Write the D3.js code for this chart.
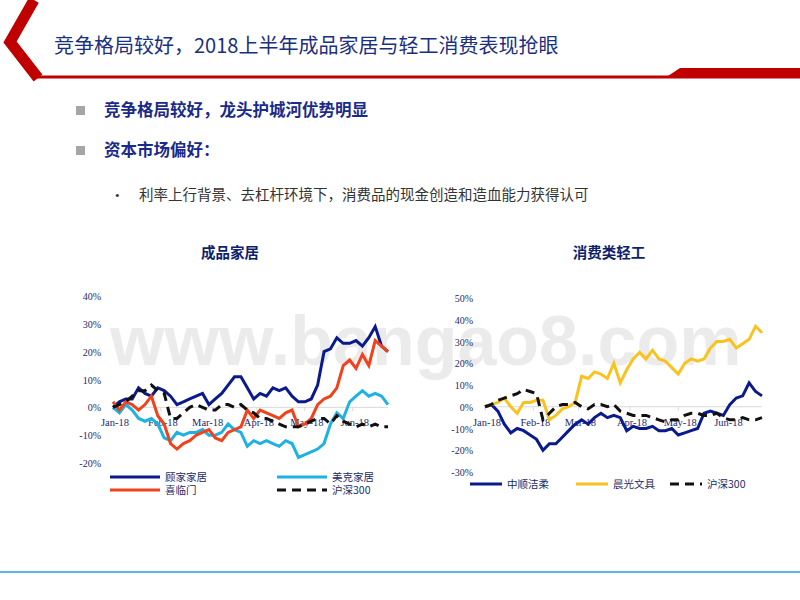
<!DOCTYPE html>
<html><head><meta charset="utf-8">
<script src="https://cdn.jsdelivr.net/npm/d3@7"></script>
<style>body{margin:0;background:#fff}</style></head>
<body><svg id="s" width="800" height="600"></svg>
<script>
const days = d3.range(0, 173, 4); // day offsets from 2018-01-02
const monthTicks = ["Jan-18","Feb-18","Mar-18","Apr-18","May-18","Jun-18"];
const monthDays = [0,30,58,90,120,150];

const leftNames = ["顾家家居","美克家居","喜临门","沪深300"];
const gujia = [0,2,3,3,7,5,4,7,6,4,1,2,3,4,5,1,3,5,8,11,11,7,3,5,4,7,6,7,4,2,2,3,8,20,21,25,23,23,24,22,25,29,22,20];
const meike = [0,-2,1,-1,-4,-5,-4,-6,-11,-12,-9,-10,-9,-9,-8,-10,-10,-9,-6,-8,-9,-14,-12,-13,-12,-13,-14,-12,-13,-18,-17,-16,-15,-13,-6,-2,-4,2,4,6,4,5,4,1];
const xilinmen = [2,-1,2,1,-1,1,4,-3,-6,-13,-15,-13,-12,-10,-9,-8,-11,-12,-9,-8,-7,-1,-4,-1,-2,-3,-4,-2,-1,-7,-6,-4,1,3,4,7,15,17,14,19,15,24,22,20];
const hs300L = [0,1,2,4,6,6,8,6,5,-4,-4,-2,0,1,0,-1,-1,1,1,0,1,-1,-2,-4,-4,-5,-6,-7,-7,-7,-6,-5,-4,-4,-6,-3,-5,-6,-7,-6,-7,-6,-7,-7];
const leftTicks = [-20,-10,0,10,20,30,40];

const rightNames = ["中顺洁柔","晨光文具","沪深300"];
const zhongshun = [0,1,-2,-8,-12,-10,-11,-13,-15,-20,-17,-17,-14,-11,-8,-6,-8,-5,-3,-5,-4,-5,-11,-9,-10,-10,-9,-11,-11,-10,-13,-12,-11,-10,-3,-2,-3,-4,1,4,5,11,7,5];
const chenguang = [0,1,2,4,0,-3,2,2,3,3,-6,-4,-1,0,2,14,13,16,15,13,20,11,17,22,25,22,26,22,21,18,15,20,22,21,22,27,30,30,31,27,29,31,37,34];
const hs300R = [0,1,3,4,5,6,8,7,6,-6,-3,0,1,1,2,0,-1,1,1,0,1,-2,-3,-4,-4,-4,-5,-6,-7,-6,-6,-4,-3,-3,-4,-4,-3,-5,-6,-6,-5,-6,-6,-5];
const rightTicks = [-30,-20,-10,0,10,20,30,40,50];

const NAVY="#0a1a8c", CYAN="#1eb2e4", RED="#f0421c", YEL="#f9c31f";
const svg = d3.select("#s");

// header decoration
svg.append("polyline").attr("points","34,0 10,42 38,78").attr("fill","none").attr("stroke","#c00000").attr("stroke-width",11);
svg.append("line").attr("x1",36).attr("x2",800).attr("y1",77).attr("y2",77).attr("stroke","#c00000").attr("stroke-width",3);
svg.append("polygon").attr("points","665,78 680,68 800,68 800,78").attr("fill","#c00000");
svg.append("text").attr("x",54).attr("y",53).attr("font-family","Noto Sans CJK SC, Liberation Serif").attr("font-size",20).attr("fill","#1a2f80").text("竞争格局较好，2018上半年成品家居与轻工消费表现抢眼");
svg.append("line").attr("x1",0).attr("x2",800).attr("y1",572).attr("y2",572).attr("stroke","#2aa0d8").attr("stroke-width",1.5);

// bullets
[[116,"竞争格局较好，龙头护城河优势明显"],[156,"资本市场偏好："]].forEach(([y,t])=>{
  svg.append("rect").attr("x",76).attr("y",y-10).attr("width",9).attr("height",9).attr("fill","#a6a6a6");
  svg.append("text").attr("x",104).attr("y",y).attr("font-family","Noto Sans CJK SC").attr("font-weight","bold").attr("font-size",16.5).attr("fill","#1a2a8a").text(t);
});
svg.append("text").attr("x",115).attr("y",200).attr("font-size",13).attr("fill","#333").text("•");
svg.append("text").attr("x",139).attr("y",200).attr("font-family","Noto Sans CJK SC").attr("font-size",14.5).attr("fill","#333").text("利率上行背景、去杠杆环境下，消费品的现金创造和造血能力获得认可");

// watermark
svg.append("text").attr("x",110).attr("y",365).attr("font-family","Liberation Sans").attr("font-weight","bold").attr("font-size",70).attr("fill","#e8e8e8").attr("fill-opacity",0.85).text("www.bangao8.com");

function chart(o){
  const x = d3.scaleLinear().domain([0,172]).range([o.x0,o.x1]);
  const y = d3.scaleLinear().domain(o.dom).range([o.yb,o.yt]);
  const g = svg.append("g");
  g.append("text").attr("x",o.tx).attr("y",258).attr("text-anchor","middle").attr("font-family","Noto Sans CJK SC").attr("font-weight","bold").attr("font-size",14.5).attr("fill","#0f1f6e").text(o.title);
  o.ticks.forEach(t=>g.append("text").attr("x",o.x0-12).attr("y",y(t)+4).attr("text-anchor","end").attr("font-family","Liberation Serif").attr("font-size",10).attr("fill","#1a2a6a").text(t+"%"));
  g.append("line").attr("x1",o.x0).attr("x2",o.x1).attr("y1",y(0)).attr("y2",y(0)).attr("stroke","#d9d9d9");
  monthDays.forEach((d,i)=>{
    g.append("line").attr("x1",x(d)).attr("x2",x(d)).attr("y1",y(0)).attr("y2",y(0)+4).attr("stroke","#d9d9d9");
    g.append("text").attr("x",x(d)+2).attr("y",y(0)+19).attr("text-anchor","middle").attr("font-family","Liberation Serif").attr("font-size",10.5).attr("fill","#1a2a6a").text(monthTicks[i]);
  });
  const line = d3.line().x((v,i)=>x(days[i])).y(v=>y(v));
  o.series.forEach(s=>g.append("path").datum(s.v).attr("d",line).attr("fill","none").attr("stroke",s.c).attr("stroke-width",3).attr("stroke-dasharray",s.dash?"9,6":null));
  o.legend.forEach(l=>{
    const s=o.series[l.i];
    g.append("line").attr("x1",l.x).attr("x2",l.x+l.w).attr("y1",l.y).attr("y2",l.y).attr("stroke",s.c).attr("stroke-width",3).attr("stroke-dasharray",s.dash?"9,6":null);
    g.append("text").attr("x",l.x+l.w+5).attr("y",l.y+4).attr("font-family","Noto Sans CJK SC").attr("font-size",10.5).attr("fill","#1a2a6a").text(o.names[l.i]);
  });
}
chart({x0:113,x1:388,yb:463,yt:296,dom:[-20,40],ticks:leftTicks,title:"成品家居",tx:230,names:leftNames,
  series:[{v:gujia,c:NAVY},{v:meike,c:CYAN},{v:xilinmen,c:RED},{v:hs300L,c:"#111",dash:true}],
  legend:[{i:0,x:110,y:477,w:50},{i:1,x:277,y:477,w:50},{i:2,x:110,y:490,w:50},{i:3,x:277,y:490,w:50}]});
chart({x0:485,x1:762,yb:472,yt:298,dom:[-30,50],ticks:rightTicks,title:"消费类轻工",tx:609,names:rightNames,
  series:[{v:zhongshun,c:NAVY},{v:chenguang,c:YEL},{v:hs300R,c:"#111",dash:true}],
  legend:[{i:0,x:470,y:484,w:32},{i:1,x:576,y:484,w:32},{i:2,x:670,y:484,w:32}]});
</script></body></html>
